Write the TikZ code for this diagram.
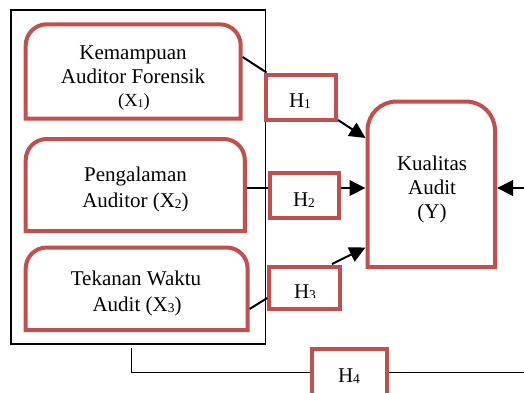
\documentclass[tikz,border=0pt]{standalone}
\usepackage{fontspec}
\setmainfont{Liberation Serif}
\usetikzlibrary{arrows.meta}
\definecolor{boxred}{HTML}{C0504D}
\newcommand\mysub[1]{\raisebox{-1.8pt}{\fontsize{13.5}{14}\selectfont #1}}
\newcommand\mysubs[1]{\raisebox{-1.6pt}{\fontsize{12}{13}\selectfont #1}}
\newcommand\toprbox[5]{\draw[redline] (#1,-#4) -- (#1,-#2-#5) arc[start angle=180,end angle=90,radius=#5] -- (#3-#5,-#2) arc[start angle=90,end angle=0,radius=#5] -- (#3,-#4) -- cycle;}
\begin{document}
\begin{tikzpicture}[x=1pt,y=1pt,
  redline/.style={draw=boxred,line width=4pt},
  hbox/.style={draw=boxred,line width=4pt,inner sep=0pt},
  conn/.style={line width=2pt},
  thinline/.style={line width=1.5pt},
  arr/.style={conn,-{Triangle[length=16pt,width=15.5pt]}},
  txt/.style={anchor=base,inner sep=0pt,font=\fontsize{21}{24}\selectfont},
  txts/.style={anchor=base,inner sep=0pt,font=\fontsize{18.5}{22}\selectfont}]
\clip (0,0) rectangle (524,-392);
\fill[white] (0,0) rectangle (524,-392);
% outer frame
\draw[thinline] (11,-10) rectangle (265.7,-344);
% rounded-top boxes
\toprbox{25.7}{24.3}{240.7}{118.7}{21}
\toprbox{25.7}{139}{244.8}{231.2}{21}
\toprbox{25.7}{247.5}{247.6}{330}{21}
\toprbox{367.5}{101.5}{495}{267}{29}
% hypothesis boxes
\node[hbox,minimum width=69.8pt,minimum height=44.7pt] (h1box) at (300.6,-97.35) {};
\node[hbox,minimum width=69.3pt,minimum height=45.3pt] (h2box) at (304.35,-195.65) {};
\node[hbox,minimum width=71pt,minimum height=42.1pt] (h3box) at (304.7,-287.75) {};
\node[hbox,minimum width=75pt,minimum height=52pt] (h4box) at (349.3,-375.2) {};
% texts
\node[txt] (x1a) at (133,-59) {Kemampuan};
\node[txt] (x1b) at (133,-83) {Auditor Forensik};
\node[txts] (x1c) at (134,-106) {(X\mysubs{1})};
\node[txt] (x2a) at (135.5,-181) {Pengalaman};
\node[txt] (x2b) at (135.5,-207) {Auditor (X\mysub{2})};
\node[txt] (x3a) at (136,-285) {Tekanan Waktu};
\node[txt] (x3b) at (137,-311) {Audit (X\mysub{3})};
\node[txt] (ya) at (432,-170) {Kualitas};
\node[txt] (yb) at (432,-194) {Audit};
\node[txt] (yc) at (432,-218) {(Y)};
\node[txt] (h1) at (300,-107) {H\mysub{1}};
\node[txt] (h2) at (304,-206) {H\mysub{2}};
\begin{scope}
\clip (272,-270) rectangle (338,-297.5);
\node[txt] (h3) at (305,-298) {H\mysub{3}};
\end{scope}
\node[txt] (h4) at (349,-382) {H\mysub{4}};
% connector end points
\coordinate (x1e) at (242.7,-57);
\coordinate (h1in) at (266.5,-72.5);
\coordinate (h1out) at (338,-120);
\coordinate (y1) at (365.5,-138);
\coordinate (x2e) at (246.8,-188);
\coordinate (h2in) at (267.7,-188);
\coordinate (h2out) at (341,-188);
\coordinate (y2) at (365.5,-188);
\coordinate (x3e) at (249.6,-309);
\coordinate (h3in) at (267.2,-298);
\coordinate (h3out) at (332,-264);
\coordinate (y3) at (365.5,-247.5);
\coordinate (rin) at (524,-188);
\coordinate (y4) at (497,-188);
\coordinate (fb) at (131.7,-348.3);
\coordinate (fc) at (131.7,-372.5);
\coordinate (rout) at (524,-372.5);
% connectors
\draw[conn] (x1e) -- (h1in);
\draw[arr] (h1out) -- (y1);
\draw[conn] (x2e) -- (h2in);
\draw[arr] (h2out) -- (y2);
\draw[conn] (x3e) -- (h3in);
\draw[arr] (h3out) -- (y3);
\draw[arr] (rin) -- (y4);
\draw[thinline] (fb) -- (fc) -- (h4box.west |- fc);
\draw[thinline] (h4box.east |- fc) -- (rout);
\end{tikzpicture}
\end{document}
